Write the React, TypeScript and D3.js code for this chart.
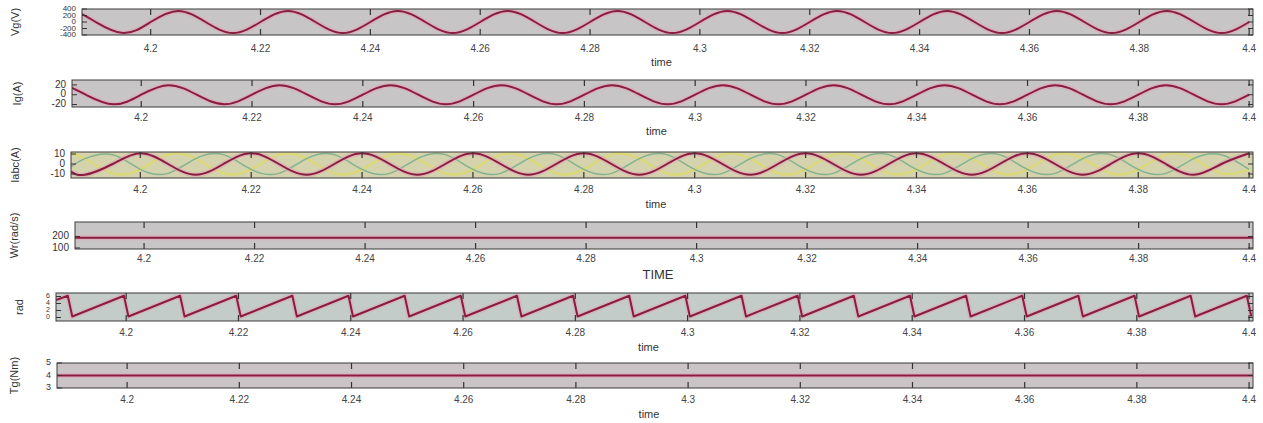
import React from "react";
import * as d3 from "d3";

// ---------- data ----------
const xTickValues = [4.2, 4.22, 4.24, 4.26, 4.28, 4.3, 4.32, 4.34, 4.36, 4.38, 4.4];
const xTickLabels = ["4.2", "4.22", "4.24", "4.26", "4.28", "4.3", "4.32", "4.34", "4.36", "4.38", "4.4"];

// sample instants (quarter-period points of the 50 Hz waveforms)
const sineTimes = [
  4.1875, 4.19, 4.195, 4.2, 4.205, 4.21, 4.215, 4.22, 4.225, 4.23, 4.235, 4.24, 4.245, 4.25, 4.255,
  4.26, 4.265, 4.27, 4.275, 4.28, 4.285, 4.29, 4.295, 4.3, 4.305, 4.31, 4.315, 4.32, 4.325, 4.33,
  4.335, 4.34, 4.345, 4.35, 4.355, 4.36, 4.365, 4.37, 4.375, 4.38, 4.385, 4.39, 4.395, 4.4,
];

const vgValues = [
  240, 0, -340, 0, 340, 0, -340, 0, 340, 0, -340, 0, 340, 0, -340, 0, 340, 0, -340, 0, 340, 0, -340,
  0, 340, 0, -340, 0, 340, 0, -340, 0, 340, 0, -340, 0, 340, 0, -340, 0, 340, 0, -340, 0,
];
const igValues = [
  13.8, 0, -19.5, 0, 19.5, 0, -19.5, 0, 19.5, 0, -19.5, 0, 19.5, 0, -19.5, 0, 19.5, 0, -19.5, 0, 19.5,
  0, -19.5, 0, 19.5, 0, -19.5, 0, 19.5, 0, -19.5, 0, 19.5, 0, -19.5, 0, 19.5, 0, -19.5, 0, 19.5, 0,
  -19.5, 0,
];
const iaValues = [
  -7.6, -10.8, 0, 10.8, 0, -10.8, 0, 10.8, 0, -10.8, 0, 10.8, 0, -10.8, 0, 10.8, 0, -10.8, 0, 10.8, 0,
  -10.8, 0, 10.8, 0, -10.8, 0, 10.8, 0, -10.8, 0, 10.8, 0, -10.8, 0, 10.8, 0, -10.8, 0, 10.8, 0, -10.8,
  0, 10.8,
];
const ibValues = [
  10.4, 5.4, -9.35, -5.4, 9.35, 5.4, -9.35, -5.4, 9.35, 5.4, -9.35, -5.4, 9.35, 5.4, -9.35, -5.4, 9.35,
  5.4, -9.35, -5.4, 9.35, 5.4, -9.35, -5.4, 9.35, 5.4, -9.35, -5.4, 9.35, 5.4, -9.35, -5.4, 9.35, 5.4,
  -9.35, -5.4, 9.35, 5.4, -9.35, -5.4, 9.35, 5.4, -9.35, -5.4,
];
const icValues = [
  -2.8, 5.4, 9.35, -5.4, -9.35, 5.4, 9.35, -5.4, -9.35, 5.4, 9.35, -5.4, -9.35, 5.4, 9.35, -5.4, -9.35,
  5.4, 9.35, -5.4, -9.35, 5.4, 9.35, -5.4, -9.35, 5.4, 9.35, -5.4, -9.35, 5.4, 9.35, -5.4, -9.35, 5.4,
  9.35, -5.4, -9.35, 5.4, 9.35, -5.4, -9.35, 5.4, 9.35, -5.4,
];

const wrTimes = [4.1875, 4.4007];
const wrValues = [190, 190];

const radTimes = [
  4.1875, 4.1896, 4.1904, 4.1996, 4.2004, 4.2096, 4.2104, 4.2196, 4.2204, 4.2296, 4.2304, 4.2396,
  4.2404, 4.2496, 4.2504, 4.2596, 4.2604, 4.2696, 4.2704, 4.2796, 4.2804, 4.2896, 4.2904, 4.2996,
  4.3004, 4.3096, 4.3104, 4.3196, 4.3204, 4.3296, 4.3304, 4.3396, 4.3404, 4.3496, 4.3504, 4.3596,
  4.3604, 4.3696, 4.3704, 4.3796, 4.3804, 4.3896, 4.3904, 4.3996, 4.4004,
];
const radValues = [
  5.0, 6.2, 0.3, 6.2, 0.3, 6.2, 0.3, 6.2, 0.3, 6.2, 0.3, 6.2, 0.3, 6.2, 0.3, 6.2, 0.3, 6.2, 0.3, 6.2,
  0.3, 6.2, 0.3, 6.2, 0.3, 6.2, 0.3, 6.2, 0.3, 6.2, 0.3, 6.2, 0.3, 6.2, 0.3, 6.2, 0.3, 6.2, 0.3, 6.2,
  0.3, 6.2, 0.3, 6.2, 0.3,
];

const tgTimes = [4.1875, 4.4007];
const tgValues = [4.0, 4.0];

const yLabels = ["Vg(V)", "Ig(A)", "Iabc(A)", "Wr(rad/s)", "rad", "Tg(Nm)"];
const xLabels = ["time", "time", "time", "TIME", "time", "time"];
const yTicks1 = [-400, -200, 0, 200, 400];
const yTicks2 = [-20, 0, 20];
const yTicks3 = [-10, 0, 10];
const yTicks4 = [100, 200];
const yTicks5 = [0, 2, 4, 6];
const yTicks6 = [3, 4, 5];

// ---------- layout ----------
const X0 = 4.1875;
const X1 = 4.4007;
const RIGHT = 1253;
const FONT = "'Liberation Sans', Arial, sans-serif";
const RED = "#8a1d3e";

type Series = { times: number[]; values: number[]; color: string; width: number; curve: any; halo?: string; opacity?: number };
type PanelCfg = {
  left: number;
  top: number;
  bottom: number;
  yDomain: [number, number];
  yTicks: number[];
  tickFont: number;
  labelY: number;
  xLabelY: number;
  xLabelSize: number;
  yLabelX: number;
  bg: string;
  series: Series[];
};

const panels: PanelCfg[] = [
  {
    left: 82, top: 9, bottom: 35, yDomain: [-400, 400], yTicks: yTicks1, tickFont: 8,
    labelY: 49, xLabelY: 63, xLabelSize: 11, yLabelX: 16, bg: "#c8c5c7",
    series: [{ times: sineTimes, values: vgValues, color: RED, width: 2, curve: d3.curveNatural, halo: "#e2a2b8" }],
  },
  {
    left: 72, top: 80, bottom: 107, yDomain: [-25, 30], yTicks: yTicks2, tickFont: 10,
    labelY: 118, xLabelY: 132, xLabelSize: 11, yLabelX: 18, bg: "#c8c5c7",
    series: [{ times: sineTimes, values: igValues, color: RED, width: 2, curve: d3.curveNatural, halo: "#e2a2b8" }],
  },
  {
    left: 71, top: 152, bottom: 178, yDomain: [-14, 12], yTicks: yTicks3, tickFont: 10,
    labelY: 190, xLabelY: 205, xLabelSize: 11, yLabelX: 16, bg: "#d4d3ae",
    series: [
      { times: sineTimes, values: ibValues, color: "#dcd874", width: 2.5, curve: d3.curveNatural, opacity: 0.9 },
      { times: sineTimes, values: icValues, color: "#79ae8c", width: 1.5, curve: d3.curveNatural, opacity: 0.9 },
      { times: sineTimes, values: iaValues, color: RED, width: 2, curve: d3.curveNatural, halo: "#e2a2b8" },
    ],
  },
  {
    left: 75, top: 222, bottom: 249, yDomain: [91, 327], yTicks: yTicks4, tickFont: 10,
    labelY: 259, xLabelY: 276, xLabelSize: 13, yLabelX: 15, bg: "#c8c5c7",
    series: [{ times: wrTimes, values: wrValues, color: RED, width: 2, curve: d3.curveLinear, halo: "#e2a2b8" }],
  },
  {
    left: 56, top: 293, bottom: 321, yDomain: [-1, 7], yTicks: yTicks5, tickFont: 7,
    labelY: 333, xLabelY: 348, xLabelSize: 11, yLabelX: 20, bg: "#c3ccc8",
    series: [{ times: radTimes, values: radValues, color: RED, width: 2, curve: d3.curveLinear, halo: "#e2a2b8" }],
  },
  {
    left: 57, top: 363, bottom: 388, yDomain: [3, 5], yTicks: yTicks6, tickFont: 9,
    labelY: 400, xLabelY: 415, xLabelSize: 11, yLabelX: 15, bg: "#cbc4c7",
    series: [{ times: tgTimes, values: tgValues, color: RED, width: 2, curve: d3.curveLinear, halo: "#e2a2b8" }],
  },
];

function Panel({ cfg, idx }: { cfg: PanelCfg; idx: number }) {
  const x = d3.scaleLinear().domain([X0, X1]).range([cfg.left, RIGHT]);
  const y = d3.scaleLinear().domain(cfg.yDomain).range([cfg.bottom, cfg.top]);
  const clipId = `clip-${idx}`;
  const tickLen = 6;
  const yTickLen = 5;
  return (
    <g>
      <defs>
        <clipPath id={clipId}>
          <rect x={cfg.left} y={cfg.top} width={RIGHT - cfg.left} height={cfg.bottom - cfg.top} />
        </clipPath>
      </defs>
      <rect x={cfg.left} y={cfg.top} width={RIGHT - cfg.left} height={cfg.bottom - cfg.top} fill={cfg.bg} />
      <g clipPath={`url(#${clipId})`}>
        {cfg.series.map((s, i) => {
          const gen = d3
            .line<number>()
            .x((_, j) => x(s.times[j]))
            .y((d) => y(d))
            .curve(s.curve);
          const d = gen(s.values) || "";
          return (
            <g key={i}>
              {s.halo && <path d={d} fill="none" stroke={s.halo} strokeWidth={5} strokeOpacity={0.55} />}
              <path d={d} fill="none" stroke={s.color} strokeWidth={s.width} strokeOpacity={s.opacity ?? 1} strokeLinejoin="round" />
            </g>
          );
        })}
      </g>
      {/* x ticks */}
      {xTickValues.map((t, i) => (
        <g key={i}>
          <line x1={x(t)} x2={x(t)} y1={cfg.top} y2={cfg.top + tickLen} stroke="#333" strokeWidth={1.2} />
          <line x1={x(t)} x2={x(t)} y1={cfg.bottom} y2={cfg.bottom - tickLen} stroke="#333" strokeWidth={1.2} />
          <text x={x(t)} y={cfg.labelY} textAnchor="middle" dominantBaseline="middle" fontSize={10} fill="#444" fontFamily={FONT}>
            {xTickLabels[i]}
          </text>
        </g>
      ))}
      {/* y ticks */}
      {cfg.yTicks.map((v, i) => (
        <g key={i}>
          <line x1={cfg.left} x2={cfg.left + yTickLen} y1={y(v)} y2={y(v)} stroke="#333" strokeWidth={1} />
          <line x1={RIGHT} x2={RIGHT - yTickLen} y1={y(v)} y2={y(v)} stroke="#333" strokeWidth={1} />
          <text x={cfg.left - 6} y={y(v)} textAnchor="end" dominantBaseline="middle" fontSize={cfg.tickFont} fill="#333" fontFamily={FONT}>
            {String(v)}
          </text>
        </g>
      ))}
      <rect x={cfg.left} y={cfg.top} width={RIGHT - cfg.left} height={cfg.bottom - cfg.top} fill="none" stroke="#3a3a3a" strokeWidth={1} />
      <text x={(cfg.left + RIGHT) / 2 - 6} y={cfg.xLabelY} textAnchor="middle" dominantBaseline="middle" fontSize={cfg.xLabelSize} fill="#333" fontFamily={FONT}>
        {xLabels[idx]}
      </text>
      <text
        transform={`translate(${cfg.yLabelX},${(cfg.top + cfg.bottom) / 2}) rotate(-90)`}
        textAnchor="middle"
        dominantBaseline="middle"
        fontSize={11}
        fill="#333"
        fontFamily={FONT}
      >
        {yLabels[idx]}
      </text>
    </g>
  );
}

export default function App() {
  return (
    <svg width={1263} height={423} style={{ position: "absolute", left: 0, top: 0, background: "#fff" }}>
      {panels.map((p, i) => (
        <Panel key={i} cfg={p} idx={i} />
      ))}
    </svg>
  );
}
